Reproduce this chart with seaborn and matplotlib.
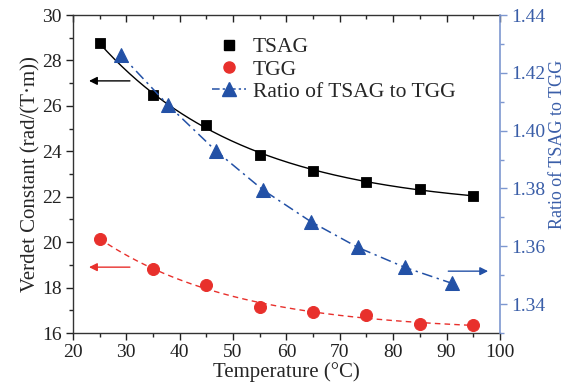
import numpy as np
import pandas as pd
import matplotlib
matplotlib.use("Agg")
import matplotlib.pyplot as plt
import seaborn as sns
from matplotlib.ticker import MultipleLocator

temps = [25, 35, 45, 55, 65, 75, 85, 95]
tsag = [28.75, 26.5, 25.17, 23.85, 23.15, 22.65, 22.33, 22.05]
tgg = [20.15, 18.8, 18.1, 17.15, 16.93, 16.78, 16.4, 16.34]
ratio_x = [29.0, 37.8, 46.8, 55.6, 64.6, 73.4, 82.2, 91.0]
ratio = [1.4262, 1.4089, 1.3930, 1.3795, 1.3685, 1.3596, 1.3527, 1.3472]

sns.set_theme(style="ticks")
plt.rcParams['font.family'] = ['Liberation Serif', 'DejaVu Serif']

BLACK = "#000000"
RED = "#e8302c"
BLUE = "#2351a6"
RBLUE = "#3a5ea8"
SPINE_BLUE = "#7d97d0"


def expfit(x, y):
    x = np.asarray(x, float)
    y = np.asarray(y, float)
    best = None
    for tau in np.linspace(5, 200, 800):
        A = np.column_stack([np.ones_like(x), np.exp(-x / tau)])
        coef, res, *_ = np.linalg.lstsq(A, y, rcond=None)
        err = np.sum((A @ coef - y) ** 2)
        if best is None or err < best[0]:
            best = (err, tau, coef)
    _, tau, coef = best
    return lambda t: coef[0] + coef[1] * np.exp(-np.asarray(t) / tau)


fig = plt.figure(figsize=(5.74, 3.85), dpi=100)
ax = fig.add_axes([0.127, 0.135, 0.744, 0.826])
ax2 = ax.twinx()

df = pd.DataFrame({"T": temps, "TSAG": tsag, "TGG": tgg})
rdf = pd.DataFrame({"T": ratio_x, "Ratio": ratio})

xs = np.linspace(25, 95, 200)
f1 = expfit(temps, tsag)
f2 = expfit(temps, tgg)
fitdf = pd.DataFrame({"T": xs, "f1": f1(xs), "f2": f2(xs)})
sns.lineplot(data=fitdf, x="T", y="f1", ax=ax, color=BLACK, lw=1.0, legend=False)
sns.lineplot(data=fitdf, x="T", y="f2", ax=ax, color=RED, lw=1.0, linestyle=(0, (4, 3)), legend=False)

sns.scatterplot(data=df, x="T", y="TSAG", ax=ax, marker="s", s=55, color=BLACK,
                edgecolor=BLACK, zorder=5, legend=False)
sns.scatterplot(data=df, x="T", y="TGG", ax=ax, marker="o", s=75, color=RED,
                edgecolor=RED, zorder=5, legend=False)

sns.lineplot(data=rdf, x="T", y="Ratio", ax=ax2, color=BLUE, lw=1.1,
             linestyle=(0, (7, 3, 1.5, 3)), marker="^", markersize=9.5,
             markeredgecolor=BLUE, legend=False)

ax.set_xlim(20, 100)
ax.set_ylim(16, 30)
ax2.set_ylim(1.33, 1.44)
ax.xaxis.set_major_locator(MultipleLocator(10))
ax.xaxis.set_minor_locator(MultipleLocator(5))
ax.yaxis.set_major_locator(MultipleLocator(2))
ax.yaxis.set_minor_locator(MultipleLocator(1))
ax2.yaxis.set_major_locator(MultipleLocator(0.02))
ax2.yaxis.set_minor_locator(MultipleLocator(0.01))
ax2.yaxis.set_major_formatter(matplotlib.ticker.FormatStrFormatter('%.2f'))

ax.set_xlabel("Temperature (°C)", fontsize=15, labelpad=1)
ax.set_ylabel("Verdet Constant (rad/(T·m))", fontsize=15, labelpad=1)
ax2.set_ylabel("")
fig.text(0.972, 0.135 + 0.826 * 0.594, "Ratio of TSAG to TGG", rotation=90,
         fontsize=13, color=RBLUE, ha="center", va="center")

ax.tick_params(axis="both", which="major", direction="out", length=5, width=1.0,
               labelsize=14, colors="#222222", pad=3)
ax.tick_params(axis="both", which="minor", direction="out", length=3, width=1.0)
ax.tick_params(axis="x", which="both", top=True, labeltop=False)
for t in ax.xaxis.get_major_ticks() + ax.xaxis.get_minor_ticks():
    t.tick2line.set_marker(matplotlib.lines.TICKDOWN)
ax2.tick_params(axis="y", which="major", direction="out", length=5, width=1.0,
                labelsize=14, colors=SPINE_BLUE, labelcolor=RBLUE, pad=3)
ax2.tick_params(axis="y", which="minor", direction="out", length=3, width=1.0,
                colors=SPINE_BLUE)

for s in ["left", "bottom", "top"]:
    ax.spines[s].set_color("#333333")
    ax.spines[s].set_linewidth(1.0)
ax2.spines["right"].set_color(SPINE_BLUE)
ax2.spines["right"].set_linewidth(1.2)
ax2.spines["top"].set_visible(False)
ax2.spines["left"].set_visible(False)
ax2.spines["bottom"].set_visible(False)
ax.spines["right"].set_visible(False)

ax.annotate("", xy=(22.5, 27.1), xytext=(31.2, 27.1),
            arrowprops=dict(arrowstyle="-|>", color=BLACK, lw=1.0, mutation_scale=12))
ax.annotate("", xy=(22.5, 18.9), xytext=(31.2, 18.9),
            arrowprops=dict(arrowstyle="-|>", color=RED, lw=1.0, mutation_scale=12))
ax2.annotate("", xy=(98.3, 1.3514), xytext=(89.8, 1.3514),
             arrowprops=dict(arrowstyle="-|>", color=BLUE, lw=1.0, mutation_scale=12))

h1 = matplotlib.lines.Line2D([], [], marker="s", color=BLACK, ls="none", markersize=7)
h2 = matplotlib.lines.Line2D([], [], marker="o", color=RED, ls="none", markersize=8)
h3 = matplotlib.lines.Line2D([], [], marker="^", color=BLUE, ls=(0, (5, 2, 1.5, 2)),
                             lw=1.1, markersize=9.5)
ax.legend([h1, h2, h3], ["TSAG", "TGG", "Ratio of TSAG to TGG"], loc="upper left",
          bbox_to_anchor=(0.3255, 0.93), frameon=False, fontsize=15.5,
          handlelength=1.6, handletextpad=0.3, labelspacing=0.1, borderpad=0.0,
          borderaxespad=0.0)

fig.savefig("out.png", dpi=100)
